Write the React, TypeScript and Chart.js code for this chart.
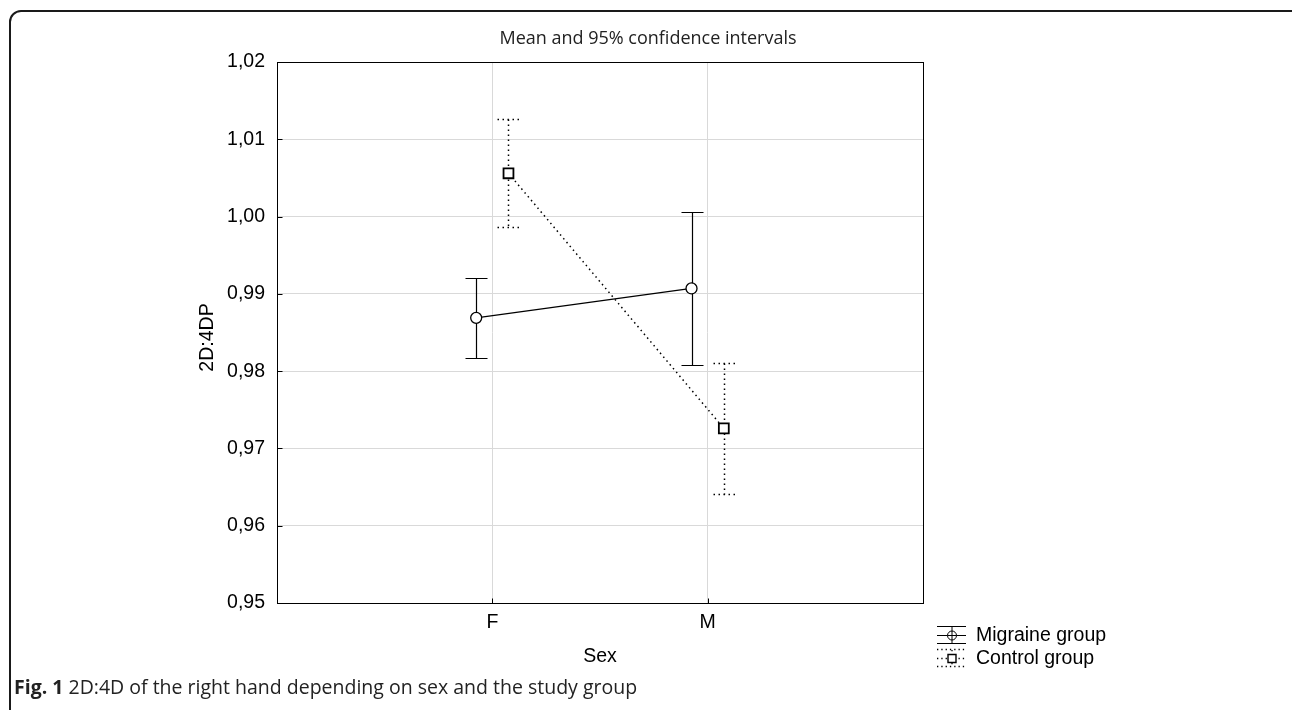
import React, { useEffect, useRef } from 'react';
import { Chart, registerables } from 'chart.js';

Chart.register(...registerables);

// ---- data ----
const CATEGORIES = ['F', 'M'];
const SERIES_NAMES = ['Migraine group', 'Control group'];
const MIGRAINE_MEAN = [0.9869, 0.9907];
const MIGRAINE_LOWER = [0.9817, 0.9808];
const MIGRAINE_UPPER = [0.9921, 1.0006];
const CONTROL_MEAN = [1.0056, 0.9726];
const CONTROL_LOWER = [0.9986, 0.9641];
const CONTROL_UPPER = [1.0126, 0.9811];
const Y_MIN = 0.95;
const Y_MAX = 1.02;
const Y_STEP = 0.01;

// ---- text ----
const TITLE = 'Mean and 95% confidence intervals';
const X_TITLE = 'Sex';
const Y_TITLE = '2D:4DP';
const CAPTION_BOLD = 'Fig. 1';
const CAPTION_TEXT = ' 2D:4D of the right hand depending on sex and the study group';

// ---- layout / style ----
const GROUP_SHIFT = [-0.075, 0.075];
const AXIS_FONT = '"Liberation Sans", Arial, sans-serif';
const AXIS_SIZE = 19.5;
const SERIES = [
  { name: SERIES_NAMES[0], mean: MIGRAINE_MEAN, lower: MIGRAINE_LOWER, upper: MIGRAINE_UPPER, dash: [] as number[], lw: 1.2, point: 'circle', radius: 5.5, pbw: 1.3 },
  { name: SERIES_NAMES[1], mean: CONTROL_MEAN, lower: CONTROL_LOWER, upper: CONTROL_UPPER, dash: [1.5, 3.5], lw: 1.5, point: 'rect', radius: 7, pbw: 1.8 },
];

const CAP = 11;

const errorBarPlugin = {
  id: 'errorBars',
  beforeDatasetsDraw(chart: any) {
    const { ctx, scales } = chart;
    const y = scales.y;
    SERIES.forEach((s, si) => {
      const meta = chart.getDatasetMeta(si);
      meta.data.forEach((pt: any, i: number) => {
        const x = Math.round(pt.x) + 0.5;
        const yt = Math.round(y.getPixelForValue(s.upper[i])) + 0.5;
        const yb = Math.round(y.getPixelForValue(s.lower[i])) + 0.5;
        ctx.save();
        ctx.strokeStyle = '#000';
        ctx.lineWidth = s.lw;
        ctx.setLineDash(s.dash);
        ctx.beginPath();
        ctx.moveTo(x, yt);
        ctx.lineTo(x, yb);
        ctx.stroke();
        ctx.beginPath();
        ctx.moveTo(x - CAP, yt);
        ctx.lineTo(x + CAP, yt);
        ctx.moveTo(x - CAP, yb);
        ctx.lineTo(x + CAP, yb);
        ctx.stroke();
        ctx.restore();
      });
    });
  },
};

const framePlugin = {
  id: 'frame',
  afterDraw(chart: any) {
    const { ctx, chartArea: a, scales } = chart;
    ctx.save();
    ctx.strokeStyle = '#000';
    ctx.lineWidth = 1;
    ctx.setLineDash([]);
    const L = Math.round(a.left) + 0.5;
    const R = Math.round(a.right) + 0.5;
    const T = Math.round(a.top) + 0.5;
    const B = Math.round(a.bottom) + 0.5;
    ctx.strokeRect(L, T, R - L, B - T);
    // inward ticks
    ctx.beginPath();
    scales.y.ticks.forEach((t: any) => {
      const yy = Math.round(scales.y.getPixelForValue(t.value)) + 0.5;
      ctx.moveTo(L, yy);
      ctx.lineTo(L + 5, yy);
    });
    scales.x.ticks.forEach((t: any) => {
      const xx = Math.round(scales.x.getPixelForValue(t.value)) + 0.5;
      ctx.moveTo(xx, B);
      ctx.lineTo(xx, B - 5);
    });
    ctx.stroke();

    // axis titles
    ctx.fillStyle = '#000';
    ctx.font = `${AXIS_SIZE}px ${AXIS_FONT}`;
    ctx.textAlign = 'center';
    ctx.textBaseline = 'middle';
    ctx.fillText(X_TITLE, (a.left + a.right) / 2, 657);
    ctx.save();
    ctx.translate(208, (a.top + a.bottom) / 2 + 5);
    ctx.rotate(-Math.PI / 2);
    ctx.fillText(Y_TITLE, 0, 0);
    ctx.restore();

    // legend
    const sx0 = 937;
    const sx1 = 966;
    const sxc = (sx0 + sx1) / 2;
    const tx = 976;
    const rows = [635, 658];
    SERIES.forEach((s, si) => {
      const cy = rows[si];
      ctx.save();
      ctx.strokeStyle = '#000';
      ctx.lineWidth = si === 0 ? 1 : 1.3;
      ctx.setLineDash(si === 0 ? [] : [1.3, 3]);
      ctx.beginPath();
      ctx.moveTo(sx0, cy - 8.5);
      ctx.lineTo(sx1, cy - 8.5);
      ctx.moveTo(sx0, cy + 0.5);
      ctx.lineTo(sx1, cy + 0.5);
      ctx.moveTo(sx0, cy + 8.5);
      ctx.lineTo(sx1, cy + 8.5);
      ctx.moveTo(sxc + 0.5, cy - 8);
      ctx.lineTo(sxc + 0.5, cy + 8);
      ctx.stroke();
      ctx.setLineDash([]);
      ctx.fillStyle = '#fff';
      ctx.beginPath();
      if (si === 0) {
        ctx.arc(sxc + 0.5, cy + 0.5, 4.5, 0, Math.PI * 2);
        ctx.fill();
        ctx.stroke();
        ctx.beginPath();
        ctx.moveTo(sxc + 0.5, cy - 4);
        ctx.lineTo(sxc + 0.5, cy + 5);
        ctx.moveTo(sxc - 4, cy + 0.5);
        ctx.lineTo(sxc + 5, cy + 0.5);
        ctx.stroke();
      } else {
        ctx.lineWidth = 1.4;
        ctx.rect(sxc - 3.5, cy - 3.5, 8, 8);
        ctx.fill();
        ctx.stroke();
      }
      ctx.restore();
      ctx.fillStyle = '#000';
      ctx.font = `${AXIS_SIZE}px ${AXIS_FONT}`;
      ctx.textAlign = 'left';
      ctx.textBaseline = 'middle';
      ctx.fillText(s.name, tx, cy + 1);
    });
    ctx.restore();
  },
};

export default function App() {
  const canvasRef = useRef<HTMLCanvasElement | null>(null);

  useEffect(() => {
    const canvas = canvasRef.current;
    if (!canvas) return;
    const chart = new Chart(canvas, {
      type: 'scatter',
      data: {
        datasets: SERIES.map((s, si) => ({
          label: s.name,
          data: s.mean.map((m, i) => ({ x: i + 1 + GROUP_SHIFT[si], y: m })),
          showLine: true,
          borderColor: '#000',
          borderWidth: s.lw,
          borderDash: s.dash,
          pointStyle: s.point as any,
          pointRadius: s.radius,
          pointHoverRadius: s.radius,
          pointBorderWidth: s.pbw,
          pointBackgroundColor: '#fff',
          pointBorderColor: '#000',
          fill: false,
          tension: 0,
        })),
      },
      options: {
        responsive: false,
        animation: false,
        events: [],
        layout: { padding: { left: 177, right: 369, top: 62, bottom: 27 } },
        plugins: {
          legend: { display: false },
          tooltip: { enabled: false },
          title: { display: false },
        },
        scales: {
          x: {
            type: 'linear',
            min: 0,
            max: 3,
            afterBuildTicks: (scale: any) => {
              scale.ticks = CATEGORIES.map((_, i) => ({ value: i + 1 }));
            },
            afterFit: (scale: any) => {
              scale.height = 80;
            },
            ticks: {
              autoSkip: false,
              maxRotation: 0,
              padding: 8,
              color: '#000',
              font: { family: AXIS_FONT, size: AXIS_SIZE },
              callback: (v: any) => CATEGORIES[Math.round(Number(v)) - 1] ?? '',
            },
            grid: { color: '#d9d9d9', lineWidth: 1, drawTicks: false },
            border: { display: false },
          },
          y: {
            type: 'linear',
            min: Y_MIN,
            max: Y_MAX,
            afterFit: (scale: any) => {
              scale.width = 100;
            },
            ticks: {
              stepSize: Y_STEP,
              padding: 12,
              color: '#000',
              font: { family: AXIS_FONT, size: AXIS_SIZE },
              callback: (v: any) => Number(v).toFixed(2).replace('.', ','),
            },
            grid: { color: '#d9d9d9', lineWidth: 1, drawTicks: false },
            border: { display: false },
          },
        },
      },
      plugins: [errorBarPlugin, framePlugin],
    });
    return () => chart.destroy();
  }, []);

  return (
    <div style={{ position: 'absolute', left: 0, top: 0, width: 1292, height: 710, overflow: 'hidden', background: '#fff' }}>
      <div
        style={{
          position: 'absolute',
          left: 9,
          top: 10,
          width: 1300,
          height: 720,
          border: '2px solid #1a1a1a',
          borderRadius: 12,
          boxSizing: 'border-box',
        }}
      />
      <canvas ref={canvasRef} width={1292} height={710} style={{ position: 'absolute', left: 0, top: 0 }} />
      <div
        style={{
          position: 'absolute',
          left: 0,
          width: 1296,
          top: 25,
          textAlign: 'center',
          fontFamily: '"Open Sans", sans-serif',
          fontSize: 18,
          lineHeight: '24px',
          color: '#222',
        }}
      >
        {TITLE}
      </div>
      <div
        style={{
          position: 'absolute',
          left: 14,
          top: 674,
          fontFamily: '"Open Sans", sans-serif',
          fontSize: 19.5,
          lineHeight: '26px',
          color: '#222',
          whiteSpace: 'nowrap',
        }}
      >
        <b>{CAPTION_BOLD}</b>
        {CAPTION_TEXT}
      </div>
    </div>
  );
}
